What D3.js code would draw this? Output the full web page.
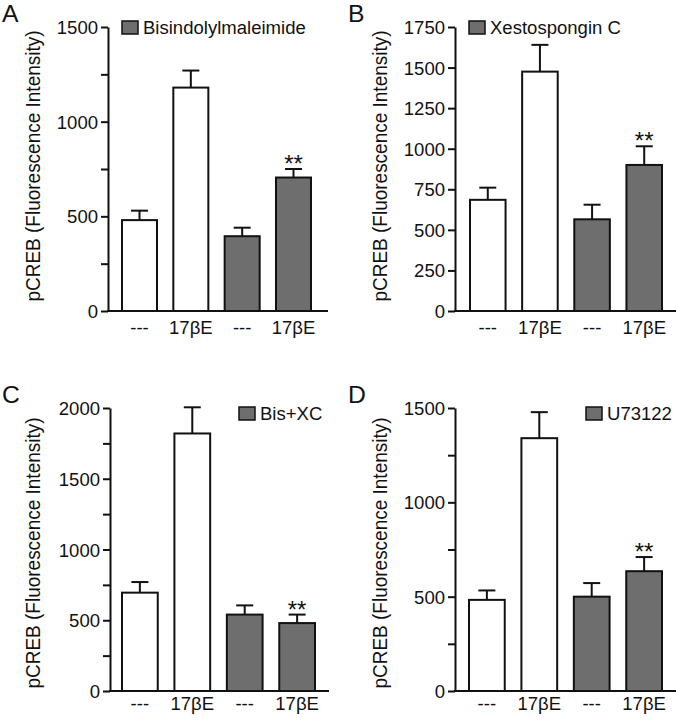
<!DOCTYPE html>
<html><head><meta charset="utf-8">
<script src="https://cdn.jsdelivr.net/npm/d3@7"></script>
<style>body{margin:0;background:#fff}svg{display:block}text{font-family:"Liberation Sans",Arial,sans-serif;fill:#111}</style>
</head><body><svg id="c" width="676" height="720"></svg>
<script>
// ---- data ----
const categories = ["---", "17βE", "---", "17βE"];
const groups = ["control", "control", "drug", "drug"];
const panelLetters = ["A", "B", "C", "D"];
const legendLabels = ["Bisindolylmaleimide", "Xestospongin C", "Bis+XC", "U73122"];
const meansA = [480, 1180, 395, 705];
const semA   = [50, 90, 45, 45];
const meansB = [685, 1475, 565, 900];
const semB   = [75, 165, 90, 115];
const meansC = [695, 1820, 540, 480];
const semC   = [75, 185, 65, 60];
const meansD = [483, 1340, 500, 635];
const semD   = [50, 138, 72, 75];
const sigMarks = ["", "", "", "**"];
const yMax = [1500, 1750, 2000, 1500];
const tickStep = [250, 250, 250, 250];
const labelStep = [500, 250, 500, 500];
const yTitle = "pCREB (Fluorescence Intensity)";

// ---- layout ----
const layout = [
  {ax:108, y0:311, yTop:27,  bx0:122, bx1:311, xEnd:328, lx:122, ly:21, lblY:334, title:[34,166], letter:[2,22]},
  {ax:455, y0:311, yTop:27,  bx0:470, bx1:662, xEnd:676, lx:469, ly:21, lblY:334, title:[381,166], letter:[348,22]},
  {ax:110, y0:691, yTop:408, bx0:122, bx1:315, xEnd:329, lx:239, ly:407, lblY:710, title:[34,553], letter:[2,403]},
  {ax:455, y0:691, yTop:408, bx0:469, bx1:662, xEnd:676, lx:586, ly:407, lblY:710, title:[381,553], letter:[348,403]}
];
const means = [meansA, meansB, meansC, meansD];
const sems = [semA, semB, semC, semD];
const SX = 1.03; // slight horizontal text stretch
const gray = "#6e6e6e";

const svg = d3.select("#c");

function stretchedText(g, x, y, str, size, anchor) {
  return g.append("text")
    .attr("transform", `translate(${x},${y}) scale(${SX},1)`)
    .attr("text-anchor", anchor || "start")
    .attr("font-size", size)
    .text(str);
}

layout.forEach((L, p) => {
  const g = svg.append("g");
  const y = d3.scaleLinear().domain([0, yMax[p]]).range([L.y0, L.yTop]);
  const x = d3.scaleBand().domain(d3.range(categories.length)).range([L.bx0, L.bx1]).paddingInner(0.318).paddingOuter(0);

  // y axis
  const axis = d3.axisLeft(y)
    .tickValues(d3.range(0, yMax[p] + 1, tickStep[p]))
    .tickFormat(d => d % labelStep[p] === 0 ? d : "")
    .tickSize(7).tickPadding(3).tickSizeOuter(0);
  const ag = g.append("g").attr("transform", `translate(${L.ax},0)`).call(axis);
  ag.select(".domain").attr("stroke", "#111").attr("stroke-width", 2);
  ag.selectAll(".tick line").attr("stroke", "#111").attr("stroke-width", 2);
  ag.selectAll(".tick text")
    .attr("x", null).attr("dy", null).attr("font-size", 18).attr("fill", "#111")
    .attr("font-family", '"Liberation Sans",Arial,sans-serif')
    .attr("transform", `translate(-10,6.5) scale(${SX},1)`);

  // x baseline
  g.append("line").attr("x1", L.ax - 1).attr("x2", L.xEnd).attr("y1", L.y0).attr("y2", L.y0)
    .attr("stroke", "#111").attr("stroke-width", 2);

  // bars
  const m = means[p], s = sems[p];
  const bw = x.bandwidth();
  const cap = 17;
  m.forEach((v, i) => {
    const cx = x(i) + bw / 2;
    g.append("line").attr("x1", cx).attr("x2", cx).attr("y1", y(v)).attr("y2", y(v + s[i]))
      .attr("stroke", "#111").attr("stroke-width", 2);
    g.append("line").attr("x1", cx - cap / 2).attr("x2", cx + cap / 2).attr("y1", y(v + s[i])).attr("y2", y(v + s[i]))
      .attr("stroke", "#111").attr("stroke-width", 2);
    g.append("rect").attr("x", x(i)).attr("y", y(v)).attr("width", bw).attr("height", L.y0 - y(v))
      .attr("fill", groups[i] === "drug" ? gray : "#fff").attr("stroke", "#111").attr("stroke-width", 2);
    if (sigMarks[i]) {
      g.append("text").attr("x", cx).attr("y", y(v + s[i]) + 3).attr("text-anchor", "middle")
        .attr("font-size", 24).attr("fill", "#222").text(sigMarks[i]);
    }
    stretchedText(g, cx, L.lblY, categories[i], 18, "middle");
  });

  // legend
  g.append("rect").attr("x", L.lx).attr("y", L.ly).attr("width", 16).attr("height", 13)
    .attr("fill", gray).attr("stroke", "#111").attr("stroke-width", 1.5);
  stretchedText(g, L.lx + 21, L.ly + 13, legendLabels[p], 18, "start");

  // y title
  g.append("text")
    .attr("transform", `translate(${L.title[0] + 6},${L.title[1]}) rotate(-90) scale(1,${SX})`)
    .attr("text-anchor", "middle").attr("font-size", 19).text(yTitle);

  // panel letter
  stretchedText(g, L.letter[0], L.letter[1], panelLetters[p], 24, "start");
});
</script></body></html>
